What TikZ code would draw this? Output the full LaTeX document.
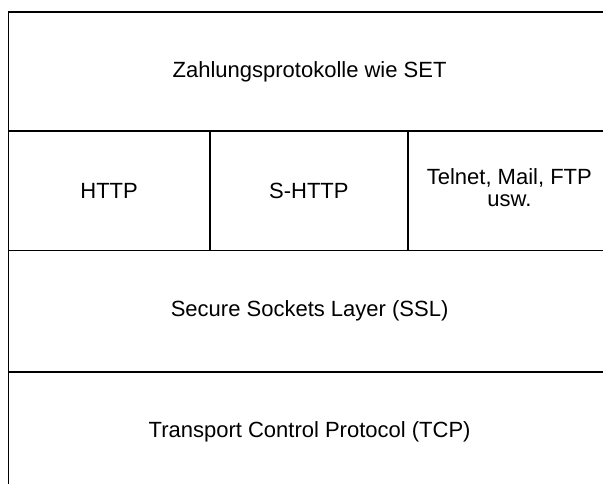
\documentclass[tikz,border=0pt]{standalone}
\usepackage{fontspec}
\setmainfont{Liberation Sans}

\tikzset{
  cell/.style={draw, line width=1.7bp, rectangle, anchor=north west, inner sep=0pt,
    align=center, font=\fontsize{22bp}{22bp}\selectfont}
}

\begin{document}
\begin{tikzpicture}[x=1bp, y=-1bp]
\useasboundingbox[fill=white] (0,0) rectangle (603,484);
% layers of the protocol stack, right and bottom edges run off the page
\node[cell, minimum width=602.5bp, minimum height=118.5bp] (zahlung) at (7.5,11.5) {Zahlungsprotokolle wie SET};
\node[cell, minimum width=201.5bp, minimum height=119.5bp] (http) at (7.5,130) {HTTP};
\node[cell, minimum width=198bp, minimum height=119.5bp] (shttp) at (209,130) {S-HTTP};
\node[cell, minimum width=203bp, minimum height=119.5bp, text depth=6bp] (telnet) at (407,130) {Telnet, Mail, FTP\\usw.};
\node[cell, minimum width=602.5bp, minimum height=121.5bp] (ssl) at (7.5,249.5) {Secure Sockets Layer (SSL)};
\node[cell, minimum width=602.5bp, minimum height=119bp] (tcp) at (7.5,371) {Transport Control Protocol (TCP)};
\end{tikzpicture}
\end{document}
